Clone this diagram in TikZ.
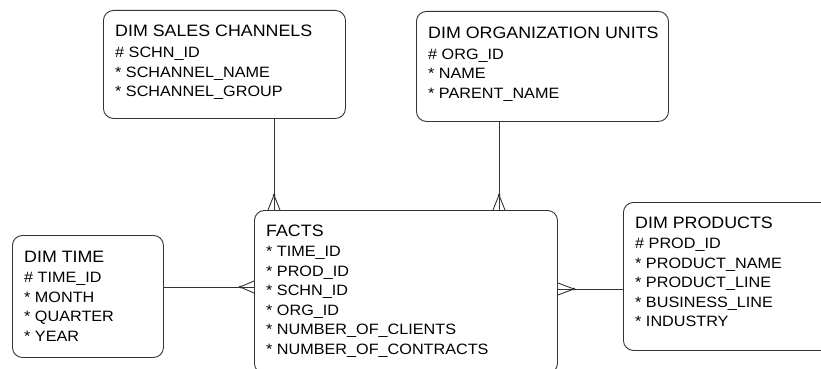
\documentclass[tikz,border=0pt]{standalone}
\usepackage{fontspec}
\setmainfont{Liberation Sans}[FakeStretch=1.08]
\usepackage{tikz}
\usetikzlibrary{calc}

\newcommand\enttitle[1]{{\fontsize{16.5}{19.5}\selectfont #1}}
\newcommand\attr{{*}}

\begin{document}
\begin{tikzpicture}[
x=1pt, y=-1pt,
entity/.style={draw=black!80, line width=0.9pt, rounded corners=10pt, anchor=north west, inner sep=0pt},
attrs/.style={anchor=base west, inner sep=0pt, font=\fontsize{15}{19.5}\selectfont},
rel/.style={draw=black!80, line width=0.9pt}
]
\clip (0,0) rectangle (821,369);
% entities
\node[entity, minimum width=242pt, minimum height=108pt] (sales) at (103,10) {};
\node[entity, minimum width=252pt, minimum height=110pt] (org) at (416,11) {};
\node[entity, minimum width=303pt, minimum height=163pt] (facts) at (254,210) {};
\node[entity, minimum width=151pt, minimum height=122pt] (time) at (12,235) {};
\node[entity, minimum width=220pt, minimum height=148pt] (prod) at (623,202) {};
% attribute lists
\node[attrs] (salestext) at ($(sales.north west)+(12,27)$) {\begin{tabular}[t]{@{}l@{}}
\enttitle{DIM SALES CHANNELS}\\[1.5pt]
\# SCHN\_ID\\ \attr{} SCHANNEL\_NAME\\ \attr{} SCHANNEL\_GROUP\end{tabular}};
\node[attrs] (orgtext) at ($(org.north west)+(12,27)$) {\begin{tabular}[t]{@{}l@{}}
\enttitle{DIM ORGANIZATION UNITS}\\[1.5pt]
\# ORG\_ID\\ \attr{} NAME\\ \attr{} PARENT\_NAME\end{tabular}};
\node[attrs] (factstext) at ($(facts.north west)+(12,26)$) {\begin{tabular}[t]{@{}l@{}}
\enttitle{FACTS}\\[1pt]
\attr{} TIME\_ID\\ \attr{} PROD\_ID\\ \attr{} SCHN\_ID\\ \attr{} ORG\_ID\\ \attr{} NUMBER\_OF\_CLIENTS\\ \attr{} NUMBER\_OF\_CONTRACTS\end{tabular}};
\node[attrs] (timetext) at ($(time.north west)+(12,27)$) {\begin{tabular}[t]{@{}l@{}}
\enttitle{DIM TIME}\\[1pt]
\# TIME\_ID\\ \attr{} MONTH\\ \attr{} QUARTER\\ \attr{} YEAR\end{tabular}};
\node[attrs] (prodtext) at ($(prod.north west)+(12,26)$) {\begin{tabular}[t]{@{}l@{}}
\enttitle{DIM PRODUCTS}\\[1pt]
\# PROD\_ID\\ \attr{} PRODUCT\_NAME\\ \attr{} PRODUCT\_LINE\\ \attr{} BUSINESS\_LINE\\ \attr{} INDUSTRY\end{tabular}};
% relations with crow's feet at the facts side
\draw[rel] ($(sales.south west)+(171,0)$) coordinate (s1) -- (s1 |- facts.north) coordinate (f1);
\draw[rel] ($(f1)+(-6,0)$) -- ($(f1)+(0,-15)$) -- ($(f1)+(6,0)$);
\fill[black!80] ($(f1)+(0,-15)$) circle (1.5);
\draw[rel] ($(org.south west)+(83,0)$) coordinate (s2) -- (s2 |- facts.north) coordinate (f2);
\draw[rel] ($(f2)+(-6,0)$) -- ($(f2)+(0,-15)$) -- ($(f2)+(6,0)$);
\fill[black!80] ($(f2)+(0,-15)$) circle (1.5);
\draw[rel] ($(time.north east)+(0,52)$) coordinate (s3) -- (s3 -| facts.west) coordinate (f3);
\draw[rel] ($(f3)+(0,-6)$) -- ($(f3)+(-14,0)$) -- ($(f3)+(0,6)$);
\fill[black!80] ($(f3)+(-14,0)$) circle (1.5);
\draw[rel] ($(prod.north west)+(0,87)$) coordinate (s4) -- (s4 -| facts.east) coordinate (f4);
\draw[rel] ($(f4)+(0,-6)$) -- ($(f4)+(16,0)$) -- ($(f4)+(0,6)$);
\fill[black!80] ($(f4)+(16,0)$) circle (1.5);
\end{tikzpicture}
\end{document}
